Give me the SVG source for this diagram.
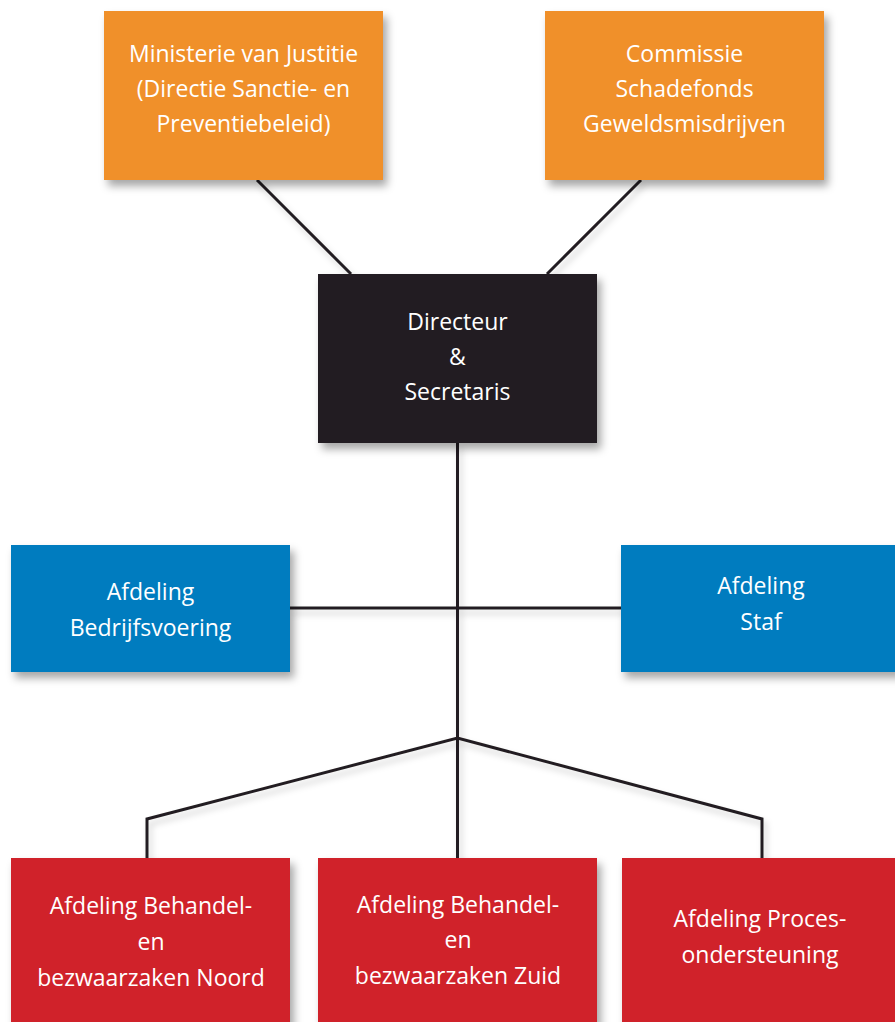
<svg xmlns="http://www.w3.org/2000/svg" width="895" height="1022" viewBox="0 0 895 1022">
<defs>
<filter id="sh" x="-10%" y="-10%" width="130%" height="130%">
<feDropShadow dx="4" dy="6" stdDeviation="4" flood-color="#000" flood-opacity="0.35"/>
</filter>
<filter id="lsh" x="-10%" y="-10%" width="130%" height="130%">
<feDropShadow dx="3" dy="5" stdDeviation="3" flood-color="#000" flood-opacity="0.18"/>
</filter>
</defs>
<style>
.t{font-family:"Open Sans","Noto Sans","Liberation Sans",sans-serif;font-size:23px;fill:#ffffff;text-anchor:middle}
.or{fill:#f0902a}
.bk{fill:#231f20}
.bl{fill:#007bbf}
.rd{fill:#d0202a}
.ln{fill:none;stroke:#231f20;stroke-width:3;stroke-linejoin:miter}
</style>
<rect width="895" height="1022" fill="#ffffff"/>
<g id="connectors" filter="url(#lsh)">
<line class="ln" x1="257" y1="180" x2="351" y2="274"/>
<line class="ln" x1="641" y1="180" x2="547" y2="274"/>
<line class="ln" x1="457.5" y1="443" x2="457.5" y2="858"/>
<line class="ln" x1="290" y1="608" x2="621" y2="608"/>
<polyline class="ln" points="147,858 147,819 457.5,738 762,819 762,858"/>
</g>
<g id="ministerie">
<rect class="or" x="104" y="11" width="279" height="169" filter="url(#sh)"/>
<text class="t" x="243.5" y="62">Ministerie van Justitie</text>
<text class="t" x="243.5" y="97">(Directie Sanctie- en</text>
<text class="t" x="243.5" y="132">Preventiebeleid)</text>
</g>
<g id="commissie">
<rect class="or" x="545" y="11" width="279" height="169" filter="url(#sh)"/>
<text class="t" x="684.5" y="62">Commissie</text>
<text class="t" x="684.5" y="97">Schadefonds</text>
<text class="t" x="684.5" y="132">Geweldsmisdrijven</text>
</g>
<g id="directeur">
<rect class="bk" x="318" y="274" width="279" height="169" filter="url(#sh)"/>
<text class="t" x="457.5" y="330">Directeur</text>
<text class="t" x="457.5" y="365">&amp;</text>
<text class="t" x="457.5" y="400">Secretaris</text>
</g>
<g id="bedrijfsvoering">
<rect class="bl" x="11" y="545" width="279" height="127" filter="url(#sh)"/>
<text class="t" x="150.5" y="600">Afdeling</text>
<text class="t" x="150.5" y="636">Bedrijfsvoering</text>
</g>
<g id="staf">
<rect class="bl" x="621" y="545" width="279" height="127" filter="url(#sh)"/>
<text class="t" x="761" y="594">Afdeling</text>
<text class="t" x="761" y="630">Staf</text>
</g>
<g id="noord">
<rect class="rd" x="11" y="858" width="279" height="170" filter="url(#sh)"/>
<text class="t" x="151" y="914">Afdeling Behandel-</text>
<text class="t" x="151" y="950">en</text>
<text class="t" x="151" y="986">bezwaarzaken Noord</text>
</g>
<g id="zuid">
<rect class="rd" x="318" y="858" width="279" height="170" filter="url(#sh)"/>
<text class="t" x="458" y="913">Afdeling Behandel-</text>
<text class="t" x="458" y="948">en</text>
<text class="t" x="458" y="984">bezwaarzaken Zuid</text>
</g>
<g id="proces">
<rect class="rd" x="622" y="858" width="279" height="170" filter="url(#sh)"/>
<text class="t" x="760" y="927">Afdeling Proces-</text>
<text class="t" x="760" y="963">ondersteuning</text>
</g>
</svg>
